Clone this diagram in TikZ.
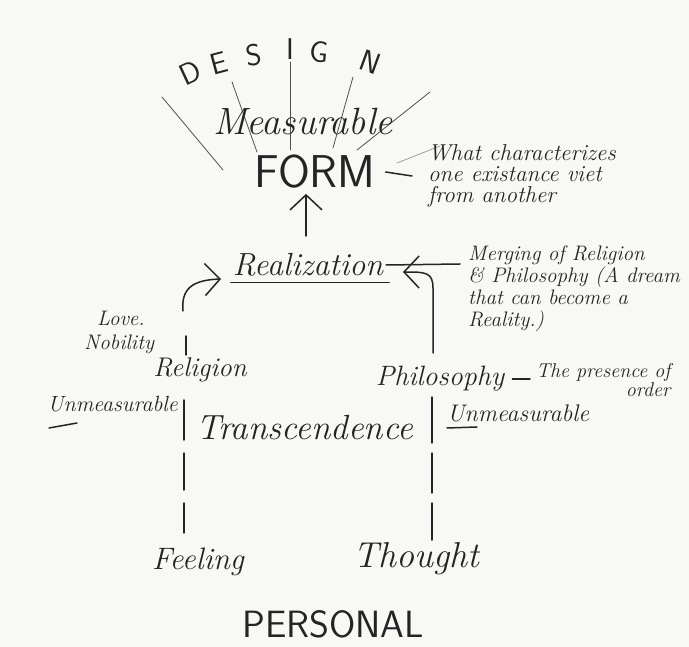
\documentclass[tikz,border=0pt]{standalone}
\usetikzlibrary{arrows.meta}

\definecolor{ink}{HTML}{242424}
\definecolor{paper}{HTML}{F8F8F6}

\tikzset{
    inkline/.style={draw=ink, line width=1.5pt, line cap=round},
    ray/.style={draw=ink!80, line width=0.8pt, line cap=round},
    hand/.style={text=ink, inner sep=0pt, font=\fontsize{#1}{#1}\selectfont\itshape},
    caps/.style={text=ink, inner sep=0pt, font=\fontsize{#1}{#1}\selectfont\sffamily},
    barb/.style={-{Straight Barb[length=15pt,width=32pt,line width=1.5pt]}}
}

\begin{document}
\begin{tikzpicture}[x=1pt,y=-1pt]
    \fill[paper] (0,0) rectangle (689,647);
    \useasboundingbox (0,0) rectangle (689,647);

    % DESIGN, fanned out
    \node[caps=30, rotate=25] (d1) at (190,73) {D};
    \node[caps=30, rotate=15] (d2) at (219,63) {E};
    \node[caps=30, rotate=8]  (d3) at (254,55) {S};
    \node[caps=30]            (d4) at (290,49) {I};
    \node[caps=30, rotate=-5] (d5) at (319,52) {G};
    \node[caps=30, rotate=-20] (d6) at (370,62) {N};

    \draw[ray] (162,97) -- (223,170);
    \draw[ray] (232,82) -- (257,152);
    \draw[ray] (290,62) -- (290,150);
    \draw[ray] (353,77) -- (333,148);
    \draw[ray] (430,92) -- (357,150);
    \draw[ray, draw=ink!45] (397,163) -- (440,146);

    \node[hand=38] (measurable) at (303,122) {Measurable};
    \node[caps=46] (form) at (315,172) {FORM};

    \node[hand=23, font=\fontsize{23}{21}\selectfont\itshape, anchor=west, align=left] (character) at (428,176)
        {What characterizes\\one existance viet\\from another};
    \draw[inkline] ([xshift=10pt]form.east) -- ([xshift=-16pt]character.west);

    % realization
    \node[hand=32] (realization) at (308,265) {Realization};
    \draw[inkline] ([xshift=-2pt,yshift=-6pt]realization.south west)
        -- ([xshift=6pt,yshift=-6pt]realization.south east);
    \coordinate (upfoot) at (306,236);
    \draw[inkline, barb] (upfoot) -- ([yshift=-5pt]upfoot |- form.south);

    \node[hand=21, font=\fontsize{21}{22}\selectfont\itshape, anchor=north west, align=left] (merging) at (468,246)
        {Merging of Religion\\\& Philosophy (A dream\\that can become a\\Reality.)};
    \coordinate (mergein) at (460,264);
    \draw[inkline] ([xshift=3pt]realization.east) -- (mergein);

    % the two roots
    \coordinate (lefttop) at (183,311);
    \coordinate (lefttip) at (221,279);
    \coordinate (righttop) at (433,353);
    \coordinate (righttip) at (403,272);
    \draw[inkline, barb] (lefttop) .. controls (181,289) and (192,280) .. (lefttip);
    \draw[inkline, barb] (righttop) -- (433,288) .. controls (433,272) and (425,272) .. (righttip);

    \node[hand=21, anchor=west] (love) at (97,318) {Love.};
    \node[hand=21, anchor=west] (nobility) at (84,344) {Nobility};
    \draw[inkline] (186,336) -- (186,355);

    \node[hand=27] (religion) at (200,370) {Religion};
    \node[hand=28] (philosophy) at (440,379) {Philosophy};

    \node[hand=20, font=\fontsize{20}{16}\selectfont\itshape, anchor=west, align=right] (presence) at (536,380)
        {The presence of\\order};
    \draw[inkline] ([xshift=8pt]philosophy.east) -- ([xshift=-6pt]presence.west |- philosophy.east);

    \node[hand=22, anchor=east] (unmleft) at (178,404) {Unmeasurable};
    \draw[inkline] (49,428) -- (77,423);
    \node[hand=24, anchor=west] (unmright) at (447,413) {Unmeasurable};
    \draw[inkline] (447,428) -- (477,427);

    \node[hand=35, anchor=west] (transcendence) at (196,428) {Transcendence};

    % broken uprights down to feeling and thought
    \node[hand=31] (feeling) at (198,562) {Feeling};
    \node[hand=36] (thought) at (416,559) {Thought};
    \coordinate (lx) at (184,0);
    \coordinate (rx) at (432,0);
    \draw[inkline, dash pattern=on 40pt off 13pt on 37pt off 13pt on 30pt off 99pt]
        (184,400) -- (feeling.north -| lx);
    \draw[inkline, dash pattern=on 46pt off 10pt on 40pt off 10pt on 37pt off 99pt]
        (432,397) -- (thought.north -| rx);

    \node[caps=38] (personal) at (333,624) {PERSONAL};
\end{tikzpicture}
\end{document}
